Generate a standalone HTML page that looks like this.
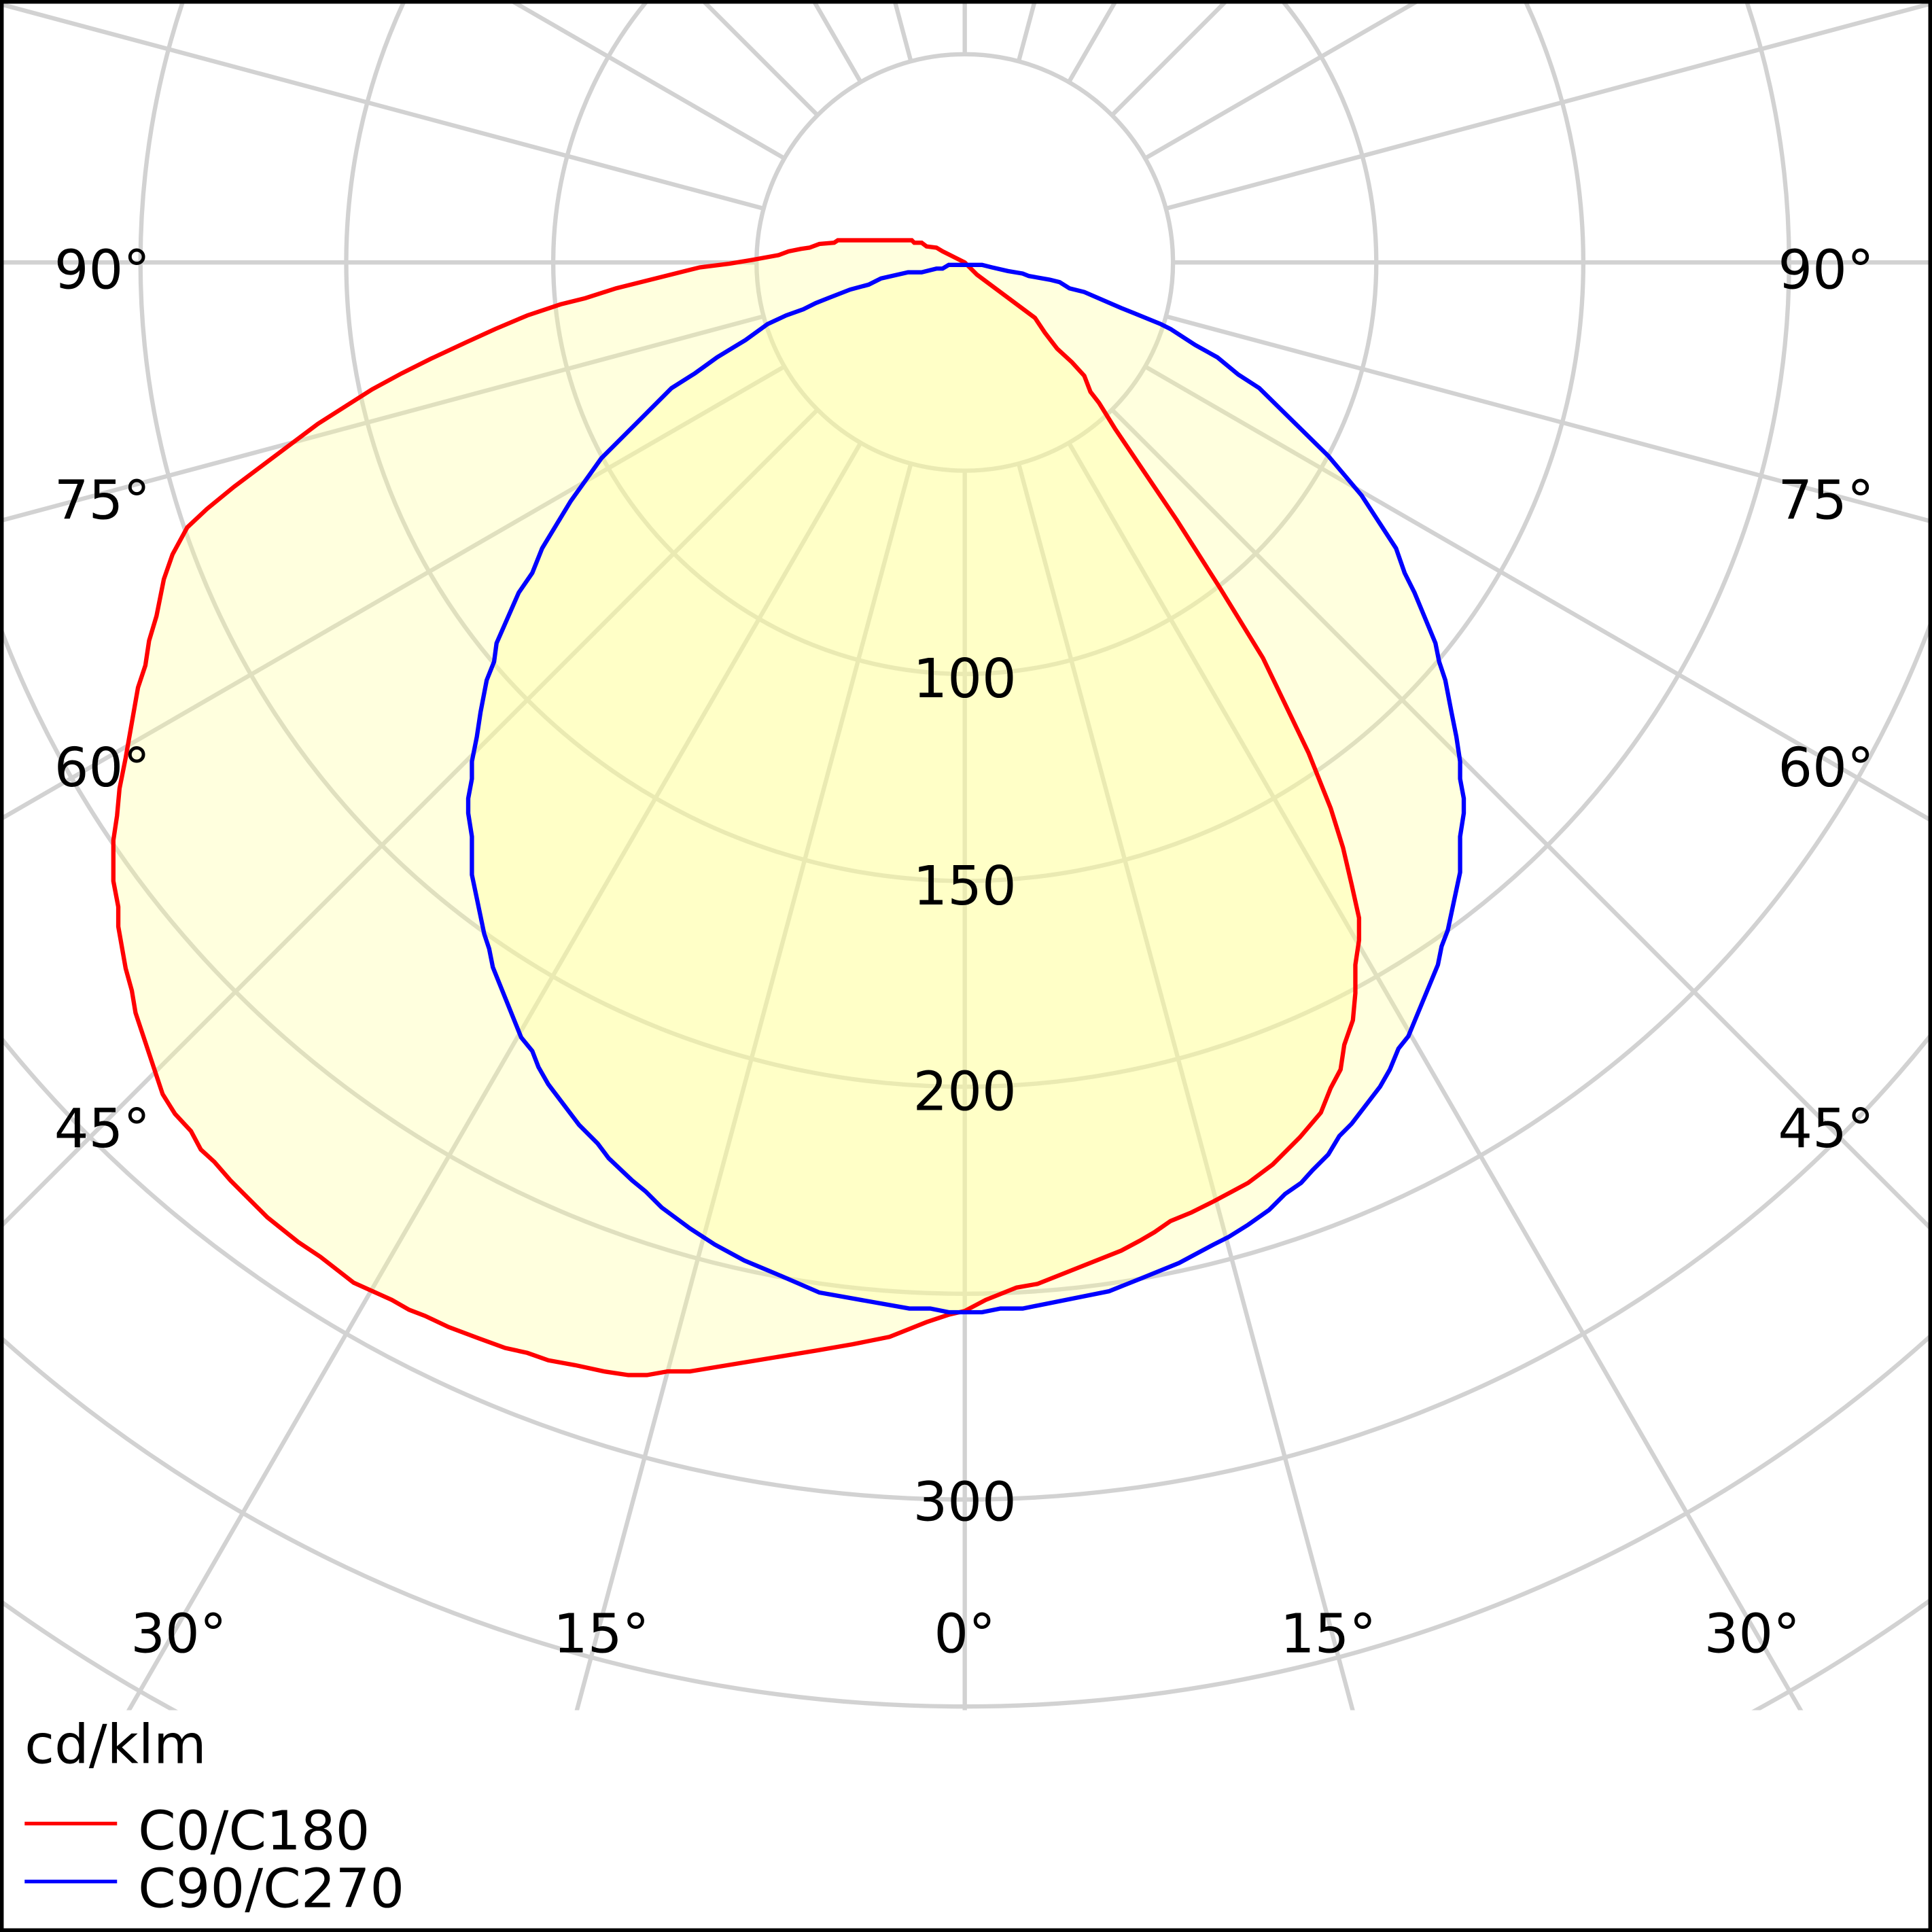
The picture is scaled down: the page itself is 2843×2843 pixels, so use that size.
<!DOCTYPE html>
<html><head><meta charset="utf-8"><style>
html,body{margin:0;padding:0;background:#fff;overflow:hidden;width:2843px;height:2843px;}
svg{display:block;}
text{font-family:"DejaVu Sans","Liberation Sans",sans-serif;font-size:44px;fill:#000;}
</style></head><body>
<svg width="2843" height="2843" viewBox="0 0 1568 1568" xmlns="http://www.w3.org/2000/svg">
<rect x="0" y="0" width="1568" height="1568" fill="#fff"/>
<defs><clipPath id="c"><rect x="2" y="2" width="1564" height="1386"/></clipPath></defs>
<g clip-path="url(#c)" stroke="#d2d2d2" stroke-width="3.5" fill="none">
<circle cx="783" cy="213" r="169"/><circle cx="783" cy="213" r="334"/><circle cx="783" cy="213" r="502"/>
<circle cx="783" cy="213" r="669"/><circle cx="783" cy="213" r="837"/><circle cx="783" cy="213" r="1004"/>
<circle cx="783" cy="213" r="1172"/><circle cx="783" cy="213" r="1339"/><circle cx="783" cy="213" r="1506"/>
<path d="
M783 382L783 2000
M826.7 376.2L1300.6 2144.8
M867.5 359.4L1783 1945
M902.5 332.5L2197 1627
M929.4 297.5L2515 1213
M946.2 256.7L2715 730.6
M952 213L2783 213
M946.2 169.3L2715 -304.6
M929.4 128.5L2515 -787
M902.5 93.5L2197 -1201
M867.5 66.6L1783 -1519
M826.7 49.8L1300.6 -1718.8
M783 44L783 -1600
M739.3 376.2L265.4 2144.8
M698.5 359.4L-217 1945
M663.5 332.5L-631 1627
M636.6 297.5L-949 1213
M619.8 256.7L-1149 730.6
M614 213L-1217 213
M619.8 169.3L-1149 -304.6
M636.6 128.5L-949 -787
M663.5 93.5L-631 -1201
M698.5 66.6L-217 -1519
M739.3 49.8L265.4 -1718.8"/>
</g>
<g fill="#ffff99" fill-opacity="0.32" stroke="none">
<path id="red" d="M783 213L775 209L765 204L760 201L752 200L748 197L742 197L740 195L680 195L677 197L665 198L657 201L650 202L640 204L632 207L610 211L592 214L568 217L500 234L475 242L455 247L428 256L402 267L378 278L350 291L326 303L302 316L258 344L190 395L168 413L152 428L140 450L133 470L127 500L121 520L118 540L112 558L102 615L97 640L95 662L92 682L92 715L96 736L96 752L102 786L107 804L110 822L132 888L142 904L155 918L163 933L174 943L187 958L217 988L242 1008L260 1020L287 1041L318 1055L332 1063L345 1068L364 1077L388 1086L410 1094L428 1098L445 1104L467 1108L490 1113L510 1116L525 1116L542 1113L560 1113L645 1099L663 1096L692 1091L722 1085L752 1073L770 1067L783 1064L800 1055L825 1045L842 1042L910 1015L925 1007L937 1000L950 991L967 984L985 975L1000 967L1013 960L1033 945L1055 923L1072 903L1080 883L1088 868L1091 848L1098 828L1100 806L1100 783L1103 763L1103 745L1097 718L1090 688L1080 656L1062 611L1025 534L990 477L955 422L930 385L905 348L892 327L885 318L880 305L870 294L858 283L848 270L840 258L793 223Z"/>
<path id="blue" d="M783 215L770 215L765 218L760 218L748 221L737 221L715 226L705 231L690 235L672 242L662 246L652 251L638 256L623 263L605 276L582 290L564 303L545 315L520 340L488 372L463 407L440 445L432 465L421 481L403 522L401 537L395 552L390 578L387 598L383 618L383 632L380 648L380 660L383 679L383 710L393 758L397 770L400 785L423 842L432 853L437 866L445 880L470 913L485 928L494 940L513 958L524 967L537 980L560 997L580 1010L604 1023L635 1036L665 1049L738 1062L755 1062L770 1065L797 1065L812 1062L830 1062L900 1048L925 1038L957 1025L970 1018L985 1010L997 1004L1013 994L1030 982L1043 969L1056 960L1065 950L1078 937L1087 922L1097 912L1120 882L1128 868L1135 851L1143 841L1167 783L1170 768L1175 755L1185 708L1185 679L1188 660L1188 648L1185 632L1185 618L1182 598L1178 578L1173 552L1168 537L1165 522L1148 481L1140 465L1133 445L1105 402L1078 370L1022 315L1005 304L988 290L970 280L950 267L942 263L920 254L910 250L880 237L868 234L860 229L852 227L835 224L830 222L818 220L805 217L797 215Z"/>
</g>
<use href="#red" fill="none" stroke="#ff0000" stroke-width="3.5"/>
<use href="#blue" fill="none" stroke="#0000ff" stroke-width="3.5"/>
<g text-anchor="middle">
<text x="783" y="566">100</text><text x="783" y="734">150</text><text x="783" y="901">200</text><text x="783" y="1234">300</text>
<text x="83" y="234">90°</text><text x="1482" y="234">90°</text>
<text x="83" y="421">75°</text><text x="1482" y="421">75°</text>
<text x="83" y="638">60°</text><text x="1482" y="638">60°</text>
<text x="83" y="931">45°</text><text x="1482" y="931">45°</text>
<text x="145" y="1341">30°</text><text x="1422" y="1341">30°</text>
<text x="488" y="1341">15°</text><text x="1078" y="1341">15°</text>
<text x="783" y="1341">0°</text>
</g>
<text x="20" y="1431">cd/klm</text>
<line x1="20" y1="1480" x2="95" y2="1480" stroke="#ff0000" stroke-width="3"/>
<text x="112" y="1501">C0/C180</text>
<line x1="20" y1="1527" x2="95" y2="1527" stroke="#0000ff" stroke-width="3"/>
<text x="112" y="1548">C90/C270</text>
<rect x="1.5" y="1.5" width="1565" height="1565" fill="none" stroke="#000" stroke-width="3"/>
</svg>
</body></html>
